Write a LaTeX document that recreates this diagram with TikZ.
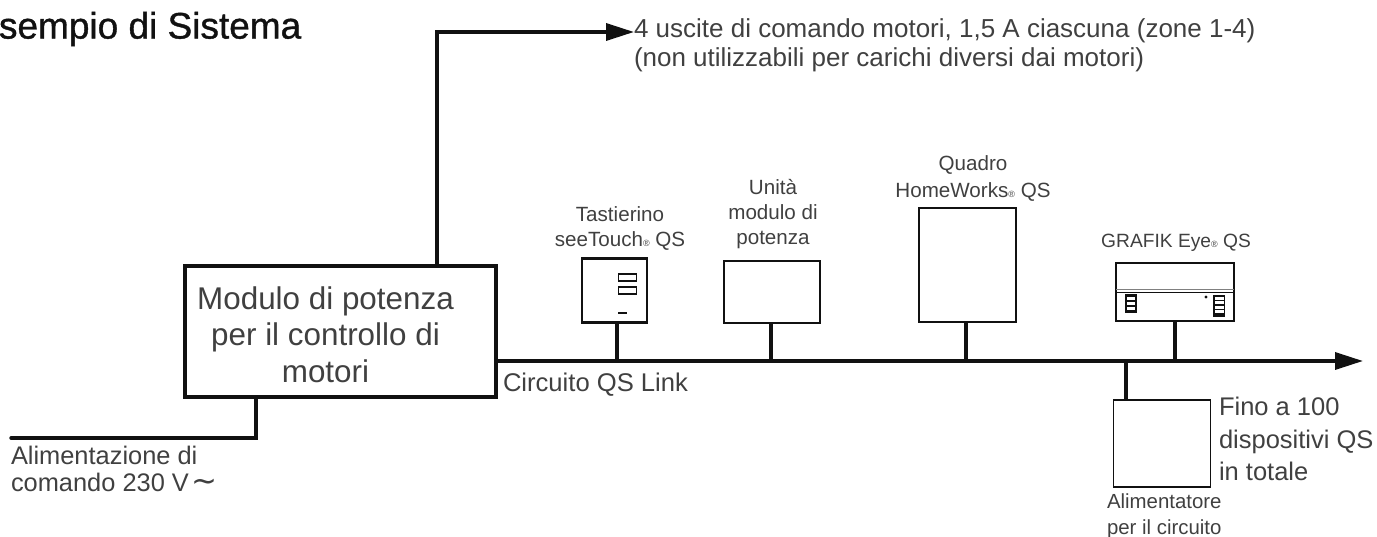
\documentclass[tikz,border=0pt]{standalone}
\usepackage{fontspec}
\setmainfont{Liberation Sans}
\newfontfamily\titlefont[FakeBold=1]{Liberation Sans}
\newfontfamily\symfont{DejaVu Sans}
\usetikzlibrary{arrows.meta}
\definecolor{ink}{HTML}{111111}
\definecolor{txt}{HTML}{404040}
\newcommand{\regmark}{{\fontsize{9}{9}\selectfont ®}}
\tikzset{
  wire/.style={draw=ink,line width=3.4pt,line cap=round,line join=miter},
  wirearrow/.style={wire,line cap=butt,-{Triangle[length=28pt,width=17pt]}},
  mainbox/.style={draw=ink,line width=3.6pt,inner sep=0pt,outer sep=0pt},
  thinbox/.style={draw=ink,line width=1.6pt,inner sep=0pt,outer sep=0pt},
  keybox/.style={draw=ink,line width=2.2pt,inner sep=0pt,outer sep=0pt},
  label/.style={text=txt,inner sep=0pt,outer sep=0pt,align=center,font=\fontsize{20.6}{25}\selectfont},
  leftlabel/.style={label,align=left,anchor=west},
  biglabel/.style={leftlabel,font=\fontsize{26}{29}\selectfont},
  mainlabel/.style={label,font=\fontsize{31.4}{36.5}\selectfont},
  detail/.style={draw=ink,line width=1.1pt},
}
\begin{document}
\begin{tikzpicture}[x=1pt,y=-1pt]
\useasboundingbox (0,0) rectangle (1377,537);
% boxes
\node[mainbox,minimum width=311pt,minimum height=131pt] (main) at (340.5,331.5) {};
\node[keybox,minimum width=65pt,minimum height=64pt] (kp) at (614.5,290.5) {};
\node[thinbox,minimum width=96pt,minimum height=62pt] (pm) at (772,292) {};
\node[thinbox,minimum width=97pt,minimum height=114pt] (hw) at (967.5,265) {};
\node[thinbox,minimum width=118pt,minimum height=58pt] (ge) at (1175,292) {};
\node[thinbox,minimum width=97pt,minimum height=87pt] (ps) at (1162,443.5) {};
% coordinates
\coordinate (busend) at (1363,361);
\coordinate (b1) at (617,361);
\coordinate (b2) at (771,361);
\coordinate (b3) at (966,361);
\coordinate (b4) at (1175,361);
\coordinate (b5) at (1126,361);
\coordinate (topend) at (634,32);
\coordinate (topcorner) at (437,32);
\coordinate (powcorner) at (256,438);
\coordinate (powend) at (11,438);
% connectors
\draw[wirearrow] (busend -| main.east) -- (busend);
\draw[wire,line cap=butt] (b1) -- (kp.south -| b1);
\draw[wire,line cap=butt] (b2) -- (pm.south -| b2);
\draw[wire,line cap=butt] (b3) -- (hw.south -| b3);
\draw[wire,line cap=butt] (b4) -- (ge.south -| b4);
\draw[wire,line cap=butt] (b5) -- (ps.north -| b5);
\draw[wirearrow] (main.north -| topcorner) -- (topcorner) -- (topend);
\draw[wire] (main.south -| powcorner) -- (powcorner) -- (powend);
% keypad details
\draw[detail] (618.5,274) rectangle (636.5,281);
\draw[detail] (618.5,287) rectangle (636.5,294);
\draw[ink,line width=2pt] (618,313) -- (627,313);
% GRAFIK Eye details
\draw[gray,line width=1.6pt] (1116,289.5) -- (1234,289.5);
\draw[ink,line width=1.6pt] (1116,292.5) -- (1234,292.5);
\fill[ink] (1125,294) rectangle (1136.5,313);
\foreach \y in {297,302,307}{\fill[white] (1126.5,\y) rectangle (1135,\y+3.2);}
\fill[ink] (1213,295) rectangle (1225,317);
\foreach \y in {297,301.5,306,310.5}{\fill[white] (1214.5,\y) rectangle (1223.5,\y+3);}
\fill[ink] (1206,297) circle (1.6pt);
% labels
\node[leftlabel,text=ink,font=\titlefont\fontsize{37}{42}\selectfont] (title) at (-1,29) {sempio di Sistema};
\node[biglabel] (outs) at (634,45) {4 uscite di comando motori, 1,5 A ciascuna (zone 1-4)\\(non utilizzabili per carichi diversi dai motori)};
\node[mainlabel] (mainl) at (325.5,334.5) {Modulo di potenza\\per il controllo di\\motori};
\node[label] (kpl) at (620,228) {Tastierino\\seeTouch\regmark{} QS};
\node[label] (pml) at (773,214) {Unità\\modulo di\\potenza};
\node[label,font=\fontsize{20.6}{27}\selectfont] (hwl) at (973,178) {Quadro\\HomeWorks\regmark{} QS};
\node[label,font=\fontsize{19.2}{25}\selectfont] (gel) at (1176,243) {GRAFIK Eye\regmark{} QS};
\node[leftlabel,font=\fontsize{25.6}{27}\selectfont] (qsl) at (503,385) {Circuito QS Link};
\node[leftlabel,font=\fontsize{25.4}{27}\selectfont] (powl) at (11,469) {Alimentazione di\\comando 230 V\hspace{3pt}{\symfont\fontsize{31}{27}\selectfont ∼}};
\node[leftlabel,font=\fontsize{25.5}{32.5}\selectfont] (fino) at (1219,439) {Fino a 100\\dispositivi QS\\in totale};
\node[leftlabel,font=\fontsize{20.4}{26}\selectfont] (psl) at (1107,516.5) {Alimentatore\\per il circuito};
\end{tikzpicture}
\end{document}
